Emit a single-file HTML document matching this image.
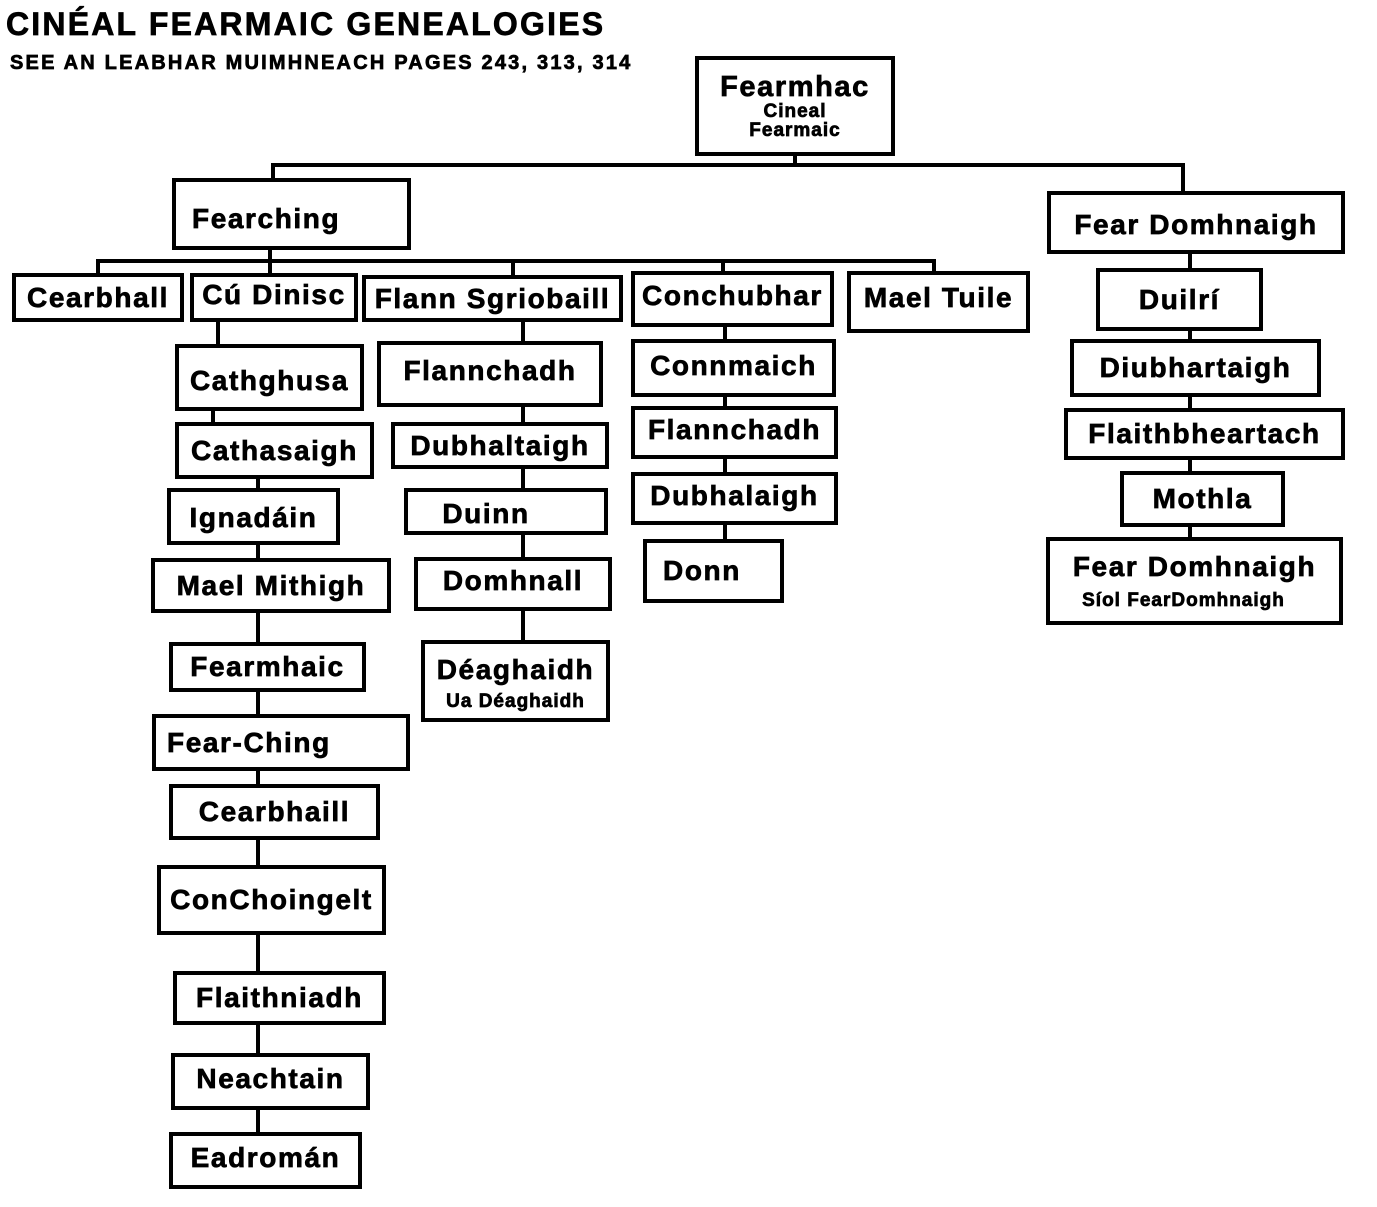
<!DOCTYPE html>
<html><head><meta charset="utf-8"><style>
body{margin:0;width:1377px;height:1207px;background:#fff;position:relative;overflow:hidden;font-family:"Liberation Sans",Arial,sans-serif;font-weight:bold;color:#000}
.l{position:absolute;background:#000}
.b{position:absolute;box-sizing:border-box;border:4px solid #000;background:#fff;display:flex;flex-direction:column;align-items:center;justify-content:center;font-size:28px;letter-spacing:1.6px;white-space:nowrap;line-height:1;-webkit-text-stroke:0.7px #000}
.t{position:absolute;white-space:nowrap;-webkit-text-stroke:0.7px #000}
</style></head><body>
<div class="t" style="left:6px;top:6px;font-size:32px;letter-spacing:2.2px">CINÉAL FEARMAIC GENEALOGIES</div>
<div class="t" style="left:10px;top:52px;font-size:20px;letter-spacing:2.2px">SEE AN LEABHAR MUIMHNEACH PAGES 243, 313, 314</div>

<div class="l" style="left:793px;top:154px;width:4px;height:13px"></div>
<div class="l" style="left:271px;top:163px;width:914px;height:4px"></div>
<div class="l" style="left:271px;top:163px;width:4px;height:17px"></div>
<div class="l" style="left:1181px;top:163px;width:4px;height:30px"></div>
<div class="l" style="left:268px;top:248px;width:4px;height:14px"></div>
<div class="l" style="left:96px;top:259px;width:840px;height:4px"></div>
<div class="l" style="left:96px;top:259px;width:4px;height:16px"></div>
<div class="l" style="left:268px;top:259px;width:4px;height:16px"></div>
<div class="l" style="left:511px;top:259px;width:4px;height:18px"></div>
<div class="l" style="left:721px;top:259px;width:4px;height:14px"></div>
<div class="l" style="left:932px;top:259px;width:4px;height:14px"></div>
<div class="l" style="left:216px;top:320px;width:4px;height:26px"></div>
<div class="l" style="left:211px;top:409px;width:4px;height:15px"></div>
<div class="l" style="left:256px;top:477px;width:4px;height:700px"></div>
<div class="l" style="left:521px;top:320px;width:4px;height:330px"></div>
<div class="l" style="left:723px;top:325px;width:4px;height:220px"></div>
<div class="l" style="left:1188px;top:252px;width:4px;height:290px"></div>

<div class="b" style="left:695px;top:56px;width:200px;height:100px"><div style="font-size:29px">Fearmhac</div><div style="font-size:19px;letter-spacing:1px">Cineal</div><div style="font-size:19px;letter-spacing:1px">Fearmaic</div></div>
<div class="b" style="left:172px;top:178px;width:239px;height:72px;align-items:flex-start;padding-left:16px;padding-top:10px">Fearching</div>
<div class="b" style="left:1047px;top:191px;width:298px;height:63px;padding-top:4px">Fear Domhnaigh</div>

<div class="b" style="left:12px;top:273px;width:172px;height:49px">Cearbhall</div>
<div class="b" style="left:190px;top:273px;width:168px;height:49px;padding-bottom:6px">Cú Dinisc</div>
<div class="b" style="left:362px;top:275px;width:261px;height:47px">Flann Sgriobaill</div>
<div class="b" style="left:631px;top:271px;width:203px;height:56px;padding-bottom:6px">Conchubhar</div>
<div class="b" style="left:847px;top:271px;width:183px;height:62px;padding-bottom:8px">Mael Tuile</div>

<div class="b" style="left:175px;top:344px;width:189px;height:67px;padding-top:6px">Cathghusa</div>
<div class="b" style="left:175px;top:422px;width:199px;height:57px">Cathasaigh</div>
<div class="b" style="left:167px;top:488px;width:173px;height:57px;padding-top:2px">Ignadáin</div>
<div class="b" style="left:151px;top:558px;width:240px;height:55px">Mael Mithigh</div>
<div class="b" style="left:169px;top:642px;width:197px;height:50px">Fearmhaic</div>
<div class="b" style="left:152px;top:714px;width:258px;height:57px;align-items:flex-start;padding-left:11px">Fear-Ching</div>
<div class="b" style="left:169px;top:784px;width:211px;height:56px">Cearbhaill</div>
<div class="b" style="left:157px;top:865px;width:229px;height:70px">ConChoingelt</div>
<div class="b" style="left:173px;top:971px;width:213px;height:54px">Flaithniadh</div>
<div class="b" style="left:171px;top:1053px;width:199px;height:57px;padding-bottom:6px">Neachtain</div>
<div class="b" style="left:169px;top:1132px;width:193px;height:57px;padding-bottom:6px">Eadromán</div>

<div class="b" style="left:377px;top:341px;width:226px;height:66px;padding-bottom:6px">Flannchadh</div>
<div class="b" style="left:391px;top:422px;width:218px;height:47px">Dubhaltaigh</div>
<div class="b" style="left:404px;top:488px;width:204px;height:47px;padding-top:4px;padding-right:40px">Duinn</div>
<div class="b" style="left:414px;top:557px;width:198px;height:54px;padding-bottom:6px">Domhnall</div>
<div class="b" style="left:421px;top:640px;width:189px;height:82px;padding-top:4px"><div>Déaghaidh</div><div style="font-size:19px;letter-spacing:1px;margin-top:8px">Ua Déaghaidh</div></div>

<div class="b" style="left:631px;top:339px;width:205px;height:58px;padding-bottom:4px">Connmaich</div>
<div class="b" style="left:631px;top:406px;width:207px;height:53px;padding-bottom:6px">Flannchadh</div>
<div class="b" style="left:631px;top:472px;width:207px;height:53px;padding-bottom:6px">Dubhalaigh</div>
<div class="b" style="left:643px;top:539px;width:141px;height:64px;align-items:flex-start;padding-left:16px">Donn</div>

<div class="b" style="left:1096px;top:268px;width:167px;height:63px">Duilrí</div>
<div class="b" style="left:1070px;top:339px;width:251px;height:58px">Diubhartaigh</div>
<div class="b" style="left:1064px;top:408px;width:281px;height:52px">Flaithbheartach</div>
<div class="b" style="left:1120px;top:471px;width:165px;height:56px">Mothla</div>
<div class="b" style="left:1046px;top:537px;width:297px;height:88px"><div>Fear Domhnaigh</div><div style="font-size:19px;letter-spacing:1px;margin-top:10px;margin-right:22px">Síol FearDomhnaigh</div></div>
</body></html>
